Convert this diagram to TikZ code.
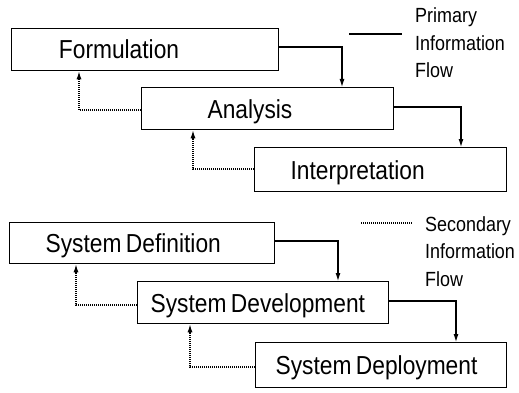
\documentclass[tikz,border=0pt]{standalone}
\usepackage{fontspec}
\setmainfont{Liberation Sans}[FakeStretch=0.875]
\usetikzlibrary{arrows.meta,calc}
\newcommand{\boxfont}{\fontsize{26}{30}\selectfont}
\tikzset{
  box/.style={draw, line width=1.3pt, rectangle, anchor=north west, align=left,
    font=\boxfont, text height=18.7pt, text depth=0pt, inner ysep=0pt},
  primary/.style={line width=1.1pt, -{Latex[length=8pt,width=5pt]}},
  secondary/.style={line width=1.2pt, dash pattern=on 1pt off 1pt, -{Latex[length=8pt,width=5pt]}},
  legendtext/.style={anchor=north west, align=left, inner sep=0pt, font=\fontsize{20.5}{27.5}\selectfont}
}
\newcommand{\mybox}[7]{% name, x, y, w, h, xsep, text
  \node[box, minimum width=#4pt, minimum height=#5pt, inner xsep=#6pt,
        text width=#4pt-2*#6pt] (#1) at (#2,#3) {\spaceskip=4.5pt\relax #7};}
\begin{document}
\begin{tikzpicture}[x=1pt,y=-1pt]
\useasboundingbox (0,0) rectangle (519,393);
\fill[white] (0,0) rectangle (519,393);

\mybox{f}{11}{28}{267}{42}{47.3}{Formulation}
\mybox{a}{141}{87}{252}{42}{66}{Analysis}
\mybox{i}{254}{147}{252}{44}{36}{Interpretation}

\mybox{sd}{9}{222}{265}{41}{36}{System Definition}
\mybox{sdev}{137}{281}{251}{42}{13}{System Development}
\mybox{sdep}{255}{342}{251}{45}{20}{System Deployment}

% primary flows
\draw[primary] ($(f.north east)+(0,19)$) -| ($(a.north west)+(201,0)$);
\draw[primary] ($(a.north east)+(0,20)$) -| ($(i.north west)+(207,0)$);
\draw[primary] ($(sd.north east)+(0,19)$) -| ($(sdev.north west)+(201,0)$);
\draw[primary] ($(sdev.north east)+(0,20)$) -| ($(sdep.north west)+(201,0)$);

% secondary flows
\draw[secondary] ($(a.north west)+(0,23)$) -| ($(f.south west)+(68,0)$);
\draw[secondary] ($(i.north west)+(0,22)$) -| ($(a.south west)+(52,0)$);
\draw[secondary] ($(sdev.north west)+(0,24)$) -| ($(sd.south west)+(67,0)$);
\draw[secondary] ($(sdep.north west)+(0,25)$) -| ($(sdev.south west)+(53,0)$);

% legends
\coordinate (p1) at (349,34);
\coordinate (p2) at (402,34);
\draw[line width=1.1pt] (p1) -- (p2);
\node[legendtext] (ptext) at (415,7.5) {Primary\\Information\\Flow};

\coordinate (s1) at (361,223);
\coordinate (s2) at (412,223);
\draw[line width=1.1pt, dash pattern=on 1pt off 1pt] (s1) -- (s2);
\node[legendtext] (stext) at (425,216) {Secondary\\Information\\Flow};
\end{tikzpicture}
\end{document}
